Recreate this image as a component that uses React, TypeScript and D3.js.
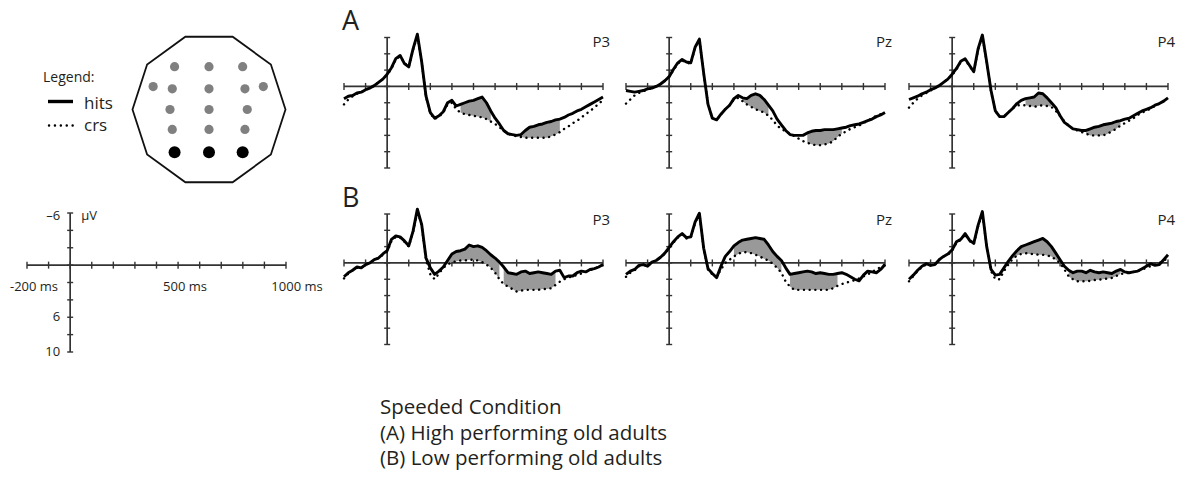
import React, { useEffect, useRef } from 'react';
import * as d3 from 'd3';

// sample grid in ms (20 ms steps, -200 .. 1000)
const times = d3.range(-200, 1001, 20);

// values in µV, negative plotted up
const hitsA_P3 = [1.5, 1.2, 1.1, 0.8, 0.7, 0.4, 0.2, -0.1, -0.5, -0.9, -1.5, -2.3, -3.4, -3.8, -2.8, -2.4, -4.6, -6.4, -3.0, 1.2, 3.2, 3.9, 3.6, 3.1, 2.0, 1.7, 2.4, 2.2, 2.0, 1.8, 1.7, 1.5, 1.3, 2.0, 3.0, 3.9, 4.6, 5.4, 5.8, 5.9, 6.0, 5.9, 5.4, 5.0, 4.9, 4.7, 4.6, 4.4, 4.3, 4.1, 4.0, 3.8, 3.5, 3.3, 3.0, 2.8, 2.5, 2.2, 1.9, 1.6, 1.3];
const crsA_P3 = [2.2, 1.6, 1.2, 0.9, 0.7, 0.4, 0.2, -0.1, -0.5, -0.9, -1.4, -2.2, -3.3, -3.7, -2.9, -2.4, -4.5, -6.3, -3.0, 1.3, 3.3, 4.0, 3.7, 3.2, 2.2, 2.0, 2.8, 3.2, 3.4, 3.5, 3.6, 3.7, 3.8, 4.0, 4.3, 4.6, 5.0, 5.4, 5.8, 6.0, 6.1, 6.2, 6.3, 6.3, 6.3, 6.3, 6.3, 6.3, 6.1, 5.9, 5.6, 5.2, 4.9, 4.5, 4.2, 3.8, 3.4, 3.0, 2.6, 2.1, 1.7];
const hitsA_Pz = [0.5, 0.6, 0.7, 0.6, 0.5, 0.3, 0.2, 0.0, -0.3, -0.7, -1.2, -2.1, -2.9, -3.3, -3.0, -2.9, -4.8, -5.8, -1.6, 2.2, 3.9, 4.1, 3.4, 2.8, 2.3, 1.5, 1.1, 1.4, 1.5, 1.1, 0.9, 1.1, 1.6, 2.3, 3.0, 4.0, 4.7, 5.4, 5.9, 6.0, 6.0, 6.0, 5.7, 5.5, 5.4, 5.4, 5.3, 5.3, 5.3, 5.2, 5.1, 5.0, 4.8, 4.7, 4.6, 4.4, 4.2, 4.0, 3.7, 3.5, 3.2];
const crsA_Pz = [2.1, 1.6, 1.1, 0.8, 0.6, 0.4, 0.2, 0.0, -0.3, -0.7, -1.2, -2.0, -2.8, -3.2, -2.9, -2.8, -4.7, -5.7, -1.6, 2.2, 3.9, 4.1, 3.4, 2.8, 2.3, 1.6, 1.4, 1.8, 2.2, 2.5, 2.8, 3.0, 3.2, 3.6, 4.1, 4.8, 5.2, 5.5, 5.8, 6.1, 6.4, 6.7, 6.9, 7.1, 7.2, 7.2, 7.1, 7.0, 6.7, 6.2, 5.8, 5.5, 5.2, 5.0, 4.8, 4.5, 4.2, 3.9, 3.6, 3.4, 3.2];
const hitsA_P4 = [1.6, 1.4, 1.2, 0.9, 0.7, 0.4, 0.2, -0.1, -0.5, -0.9, -1.5, -2.2, -3.1, -3.4, -2.6, -1.8, -4.6, -6.3, -3.0, 0.5, 3.0, 3.7, 3.7, 3.2, 2.7, 2.1, 1.7, 1.5, 1.4, 1.3, 0.8, 0.9, 1.4, 2.0, 2.6, 3.6, 4.4, 4.8, 5.2, 5.3, 5.4, 5.4, 5.2, 5.0, 4.9, 4.7, 4.6, 4.5, 4.3, 4.2, 4.0, 3.9, 3.6, 3.3, 3.0, 2.8, 2.6, 2.3, 2.1, 1.8, 1.4];
const crsA_P4 = [2.6, 2.0, 1.5, 1.1, 0.8, 0.5, 0.2, -0.1, -0.5, -0.9, -1.4, -2.1, -3.0, -3.3, -2.5, -1.8, -4.5, -6.2, -3.0, 0.6, 3.0, 3.7, 3.7, 3.2, 2.7, 2.3, 2.3, 2.3, 2.4, 2.5, 2.4, 2.3, 2.4, 2.5, 3.0, 3.6, 4.3, 4.8, 5.2, 5.4, 5.6, 5.8, 6.0, 6.0, 6.0, 6.0, 5.8, 5.5, 5.2, 4.8, 4.5, 4.2, 3.9, 3.5, 3.2, 3.0, 2.7, 2.4, 2.1, 1.8, 1.5];
const hitsB_P3 = [1.7, 1.2, 0.9, 0.5, 0.6, 0.2, 0.0, -0.4, -0.6, -1.1, -1.5, -2.9, -3.3, -3.2, -2.7, -2.1, -3.9, -6.6, -4.7, -0.6, 0.6, 1.4, 1.0, 0.5, -0.3, -1.1, -1.4, -1.5, -1.7, -2.2, -2.0, -2.1, -1.9, -1.5, -1.0, -0.6, -0.1, 0.5, 1.2, 1.3, 1.4, 1.1, 1.0, 1.3, 1.2, 1.1, 1.2, 1.3, 1.4, 1.0, 0.9, 1.8, 1.6, 1.6, 1.2, 1.0, 1.1, 0.8, 0.7, 0.5, 0.2];
const crsB_P3 = [1.9, 1.3, 0.9, 0.6, 0.6, 0.2, 0.0, -0.4, -0.6, -1.0, -1.4, -2.7, -3.2, -3.1, -2.6, -2.0, -3.8, -6.4, -4.6, -0.4, 1.4, 2.0, 1.3, 0.6, 0.2, -0.1, -0.2, -0.3, -0.3, -0.4, -0.4, -0.3, -0.1, 0.2, 0.6, 1.2, 2.0, 2.6, 2.9, 3.2, 3.5, 3.4, 3.3, 3.3, 3.3, 3.3, 3.2, 3.2, 3.1, 2.7, 2.3, 2.0, 1.8, 1.6, 1.5, 1.3, 1.1, 0.9, 0.7, 0.5, 0.2];
const hitsB_Pz = [1.4, 1.0, 0.8, 0.3, 0.2, 0.4, -0.1, -0.3, -0.7, -1.2, -1.9, -2.6, -3.2, -3.6, -3.1, -3.2, -5.0, -6.1, -1.8, 0.7, 1.3, 1.8, 0.4, -0.8, -1.4, -2.1, -2.5, -2.8, -2.9, -3.0, -3.1, -3.0, -2.9, -2.2, -1.4, -0.8, -0.3, 0.6, 1.4, 1.3, 1.2, 1.1, 1.0, 1.1, 1.3, 1.2, 1.3, 1.4, 1.4, 1.3, 1.2, 1.4, 1.7, 2.0, 2.2, 1.5, 1.0, 1.1, 1.2, 0.8, 0.2];
const crsB_Pz = [1.7, 1.2, 0.9, 0.4, 0.2, 0.4, -0.1, -0.3, -0.7, -1.1, -1.8, -2.5, -3.1, -3.5, -3.0, -3.1, -4.9, -6.0, -1.8, 0.8, 1.4, 1.7, 0.8, 0.0, -0.4, -0.8, -1.1, -1.35, -1.3, -1.2, -1.0, -0.8, -0.5, -0.3, 0.1, 0.6, 1.2, 2.3, 2.9, 3.3, 3.3, 3.3, 3.3, 3.3, 3.3, 3.3, 3.3, 3.3, 3.1, 2.8, 2.6, 2.4, 2.3, 2.1, 1.9, 1.65, 1.4, 1.1, 0.8, 0.5, 0.2];
const hitsB_P4 = [2.0, 1.5, 0.9, 0.4, 0.1, 0.3, 0.2, -0.4, -0.8, -1.1, -1.6, -2.6, -2.9, -3.6, -2.8, -2.4, -4.6, -6.3, -2.0, 0.8, 1.5, 1.4, 0.6, -0.2, -0.9, -1.5, -2.0, -2.2, -2.4, -2.6, -2.8, -3.0, -2.6, -2.0, -1.2, -0.4, 0.4, 0.9, 1.2, 1.0, 1.0, 1.2, 0.9, 1.1, 1.2, 1.1, 1.2, 1.3, 1.0, 0.8, 1.1, 1.2, 1.1, 1.0, 0.7, 0.4, 0.1, 0.3, 0.2, -0.4, -1.0];
const crsB_P4 = [2.25, 1.6, 1.0, 0.5, 0.2, 0.3, 0.2, -0.4, -0.8, -1.0, -1.5, -2.5, -2.8, -3.5, -2.7, -2.3, -4.5, -6.1, -2.0, 1.0, 2.0, 2.0, 1.0, 0.2, -0.5, -0.9, -1.1, -1.2, -1.1, -1.1, -1.0, -1.0, -0.9, -0.8, -0.4, 0.0, 0.8, 1.65, 2.0, 2.25, 2.25, 2.25, 2.2, 2.1, 2.05, 2.0, 1.9, 1.85, 1.6, 1.35, 1.3, 1.2, 1.1, 1.0, 0.8, 0.6, 0.4, 0.2, 0.0, -0.3, -0.6];

// shaded windows (ms) where hits and crs differ
const shadeA_P3 = [[330, 480], [620, 800]];
const shadeA_Pz = [[340, 470], [640, 800]];
const shadeA_P4 = [[340, 470], [620, 780]];
const shadeB_P3 = [[280, 520], [540, 780]];
const shadeB_Pz = [[300, 520], [560, 780]];
const shadeB_P4 = [[280, 500], [540, 780]];

const channels = ['P3', 'Pz', 'P4'];
const groups = ['A', 'B'];
const msTicks = d3.range(-200, 1001, 100);
const uvTicks = d3.range(-6, 11, 2);
const calLabelsX = [-200, 500, 1000];
const calLabelsY = [-6, 6, 10];
const caption = ['Speeded Condition', '(A) High performing old adults', '(B) Low performing old adults'];

// electrode montage, normalised to head radius (x right, y down)
const electrodes = [
  { name: 'F3', x: -0.45, y: -0.56 }, { name: 'Fz', x: 0, y: -0.56 }, { name: 'F4', x: 0.44, y: -0.56 },
  { name: 'FT7', x: -0.73, y: -0.3 }, { name: 'FC3', x: -0.48, y: -0.27 }, { name: 'FCz', x: 0, y: -0.27 },
  { name: 'FC4', x: 0.47, y: -0.27 }, { name: 'FT8', x: 0.71, y: -0.3 },
  { name: 'C3', x: -0.51, y: 0 }, { name: 'Cz', x: 0, y: 0 }, { name: 'C4', x: 0.5, y: 0 },
  { name: 'CP3', x: -0.48, y: 0.26 }, { name: 'CPz', x: 0, y: 0.26 }, { name: 'CP4', x: 0.47, y: 0.26 },
  { name: 'P3', x: -0.45, y: 0.56 }, { name: 'Pz', x: 0, y: 0.56 }, { name: 'P4', x: 0.44, y: 0.56 },
];

const panels = [
  { group: 'A', channel: 'P3', hits: hitsA_P3, crs: crsA_P3, shade: shadeA_P3 },
  { group: 'A', channel: 'Pz', hits: hitsA_Pz, crs: crsA_Pz, shade: shadeA_Pz },
  { group: 'A', channel: 'P4', hits: hitsA_P4, crs: crsA_P4, shade: shadeA_P4 },
  { group: 'B', channel: 'P3', hits: hitsB_P3, crs: crsB_P3, shade: shadeB_P3 },
  { group: 'B', channel: 'Pz', hits: hitsB_Pz, crs: crsB_Pz, shade: shadeB_Pz },
  { group: 'B', channel: 'P4', hits: hitsB_P4, crs: crsB_P4, shade: shadeB_P4 },
];

const FONT = "'Open Sans', 'Noto Sans', sans-serif";
const AXIS = '#333';
const TEXT = '#231f20';

const App = () => {
  const ref = useRef<SVGSVGElement>(null);

  useEffect(() => {
    drawChart();
  }, []);

  // axis cross with ticks on both sides
  const drawAxes = (g: any, x: any, y: any) => {
    const x0 = x(0);
    const y0 = y(0);
    g.append('line')
      .attr('x1', x(-200)).attr('x2', x(1000))
      .attr('y1', y0).attr('y2', y0)
      .attr('stroke', AXIS).attr('stroke-width', 1.7);
    g.selectAll('.xt').data(msTicks).enter().append('line')
      .attr('x1', (d: number) => x(d)).attr('x2', (d: number) => x(d))
      .attr('y1', y0 - 3.5).attr('y2', y0 + 3.5)
      .attr('stroke', AXIS).attr('stroke-width', 1.4);
    g.append('line')
      .attr('x1', x0).attr('x2', x0)
      .attr('y1', y(-6)).attr('y2', y(10))
      .attr('stroke', AXIS).attr('stroke-width', 1.7);
    g.selectAll('.yt').data(uvTicks).enter().append('line')
      .attr('x1', x0 - 3).attr('x2', x0 + 3)
      .attr('y1', (d: number) => y(d)).attr('y2', (d: number) => y(d))
      .attr('stroke', AXIS).attr('stroke-width', 1.4);
  };

  const drawChart = () => {
    const svg = d3.select(ref.current);
    svg.selectAll('*').remove();

    // ---- legend ----
    const leg = svg.append('g').attr('font-family', FONT).attr('fill', TEXT);
    leg.append('text').attr('x', 43).attr('y', 82).attr('font-size', 14).text('Legend:');
    leg.append('line').attr('x1', 48).attr('x2', 73).attr('y1', 101.5).attr('y2', 101.5)
      .attr('stroke', '#000').attr('stroke-width', 3.4);
    leg.append('text').attr('x', 84).attr('y', 109).attr('font-size', 17).text('hits');
    leg.append('line').attr('x1', 49).attr('x2', 73).attr('y1', 125.5).attr('y2', 125.5)
      .attr('stroke', '#000').attr('stroke-width', 2.4)
      .attr('stroke-linecap', 'round').attr('stroke-dasharray', '0.1 5.8');
    leg.append('text').attr('x', 84).attr('y', 131).attr('font-size', 17).text('crs');

    // ---- head with electrodes ----
    const hx = 209, hy = 109.5, hr = 76.5;
    const poly = d3.range(10).map(k => {
      const a = (k * 36 * Math.PI) / 180;
      return [hx + hr * Math.cos(a), hy - hr * Math.sin(a)] as [number, number];
    });
    svg.append('path')
      .attr('d', d3.line()(poly) + 'Z')
      .attr('fill', 'none').attr('stroke', '#111').attr('stroke-width', 1.8);
    const sel = new Set(channels);
    svg.selectAll('.el').data(electrodes).enter().append('circle')
      .attr('cx', d => hx + d.x * hr)
      .attr('cy', d => hy + d.y * hr)
      .attr('r', d => (sel.has(d.name) ? 6 : 4.6))
      .attr('fill', d => (sel.has(d.name) ? '#000' : '#808080'));

    // ---- calibration axes ----
    const cx = d3.scaleLinear().domain([-200, 1000]).range([27, 286]);
    const cy = d3.scaleLinear().domain([-6, 10]).range([213, 352]);
    drawAxes(svg.append('g'), cx, cy);
    const ct = svg.append('g').attr('font-family', FONT).attr('fill', TEXT).attr('font-size', 13);
    ct.selectAll('.xl').data(calLabelsX).enter().append('text')
      .attr('x', d => cx(d) + (d === 1000 ? 11 : 7))
      .attr('y', 291)
      .attr('text-anchor', 'middle')
      .text(d => `${d} ms`);
    ct.selectAll('.yl').data(calLabelsY).enter().append('text')
      .attr('x', cx(0) - 10)
      .attr('y', d => cy(d) + (d < 0 ? 7 : 4))
      .attr('text-anchor', 'end')
      .text(d => (d < 0 ? `\u2013${-d}` : `${d}`));
    ct.append('text').attr('x', cx(0) + 11).attr('y', cy(-6) + 7).text('\u00b5V');

    // ---- ERP panels ----
    const lefts = [344, 626, 909];
    const tops = [37.5, 214];
    const pw = 259, ph = 130.5;

    panels.forEach(p => {
      const col = channels.indexOf(p.channel);
      const row = groups.indexOf(p.group);
      const x = d3.scaleLinear().domain([-200, 1000]).range([lefts[col], lefts[col] + pw]);
      const y = d3.scaleLinear().domain([-6, 10]).range([tops[row], tops[row] + ph]);
      const g = svg.append('g');
      drawAxes(g, x, y);

      p.shade.forEach(([a, b]) => {
        const area = d3.area<number>()
          .defined((_, i) => times[i] >= a && times[i] <= b)
          .x((_, i) => x(times[i]))
          .y0((_, i) => y(p.crs[i]))
          .y1(d => y(d));
        g.append('path').attr('d', area(p.hits) as string)
          .attr('fill', '#999').attr('stroke', 'none');
      });

      const line = d3.line<number>().x((_, i) => x(times[i])).y(d => y(d));
      g.append('path').attr('d', line(p.crs) as string)
        .attr('fill', 'none').attr('stroke', '#000').attr('stroke-width', 2.4)
        .attr('stroke-linecap', 'round').attr('stroke-dasharray', '0.1 5.6');
      g.append('path').attr('d', line(p.hits) as string)
        .attr('fill', 'none').attr('stroke', '#000').attr('stroke-width', 2.9)
        .attr('stroke-linejoin', 'round');

      g.append('text')
        .attr('x', lefts[col] + pw + 7).attr('y', tops[row] + (row === 0 ? 9.5 : 11))
        .attr('text-anchor', 'end')
        .attr('font-family', FONT).attr('font-size', 15).attr('fill', TEXT)
        .text(p.channel);
    });

    // group letters
    svg.selectAll('.grp').data(groups).enter().append('text')
      .attr('x', 342)
      .attr('y', (_, i) => tops[i] - 7.5)
      .attr('font-family', FONT).attr('font-size', 27).attr('fill', TEXT)
      .text(d => d);

    // caption
    svg.selectAll('.cap').data(caption).enter().append('text')
      .attr('x', 380)
      .attr('y', (_, i) => 414 + i * 25.5)
      .attr('font-family', FONT).attr('font-size', 20.5).attr('fill', TEXT)
      .text(d => d);
  };

  return (
    <svg ref={ref} width={1190} height={484}
      style={{ position: 'absolute', left: 0, top: 0, background: '#fff' }} />
  );
};

export default App;
